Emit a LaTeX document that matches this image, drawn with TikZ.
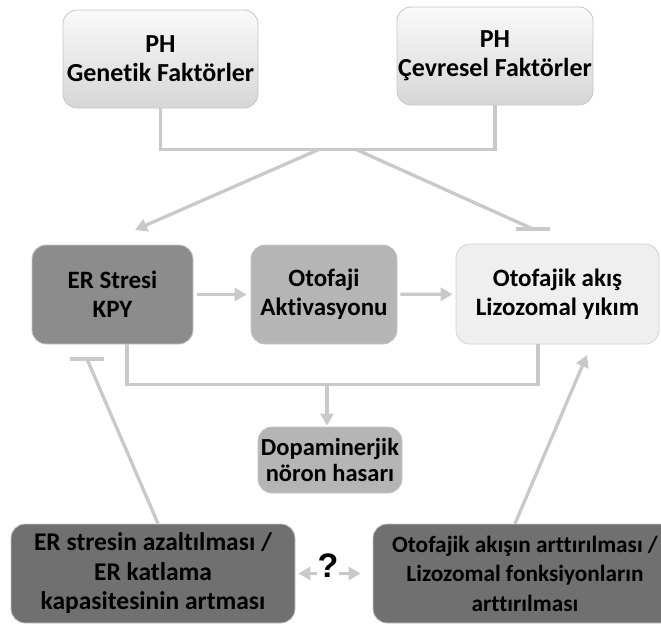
\documentclass[tikz,border=0pt]{standalone}
\usepackage{fontspec}
\setmainfont{Carlito}[Ligatures=NoCommon]
\newfontfamily\qfont{Liberation Sans}
\usetikzlibrary{arrows.meta}

\definecolor{linegray}{HTML}{C9C9C9}
\definecolor{darkbox}{HTML}{8C8C8C}
\definecolor{midbox}{HTML}{B5B5B5}
\definecolor{lightbox}{HTML}{EFEFEF}
\definecolor{deepbox}{HTML}{707070}

\begin{document}
\begin{tikzpicture}[x=1pt,y=1pt,
  box/.style={draw=gray!45, line width=0.8pt, rounded corners=14pt, inner sep=0pt, align=center,
    font=\fontsize{25}{29}\selectfont\bfseries},
  conn/.style={draw=linegray, line width=3.3pt},
  tip/.style={-{Triangle[length=12pt,width=13pt]}}]
\useasboundingbox (0,0) rectangle (661,-626);
\clip (0,0) rectangle (661,-626);

% causes
\node[box, top color=white!96!gray, bottom color=gray!32, minimum width=195, minimum height=98,
  font=\fontsize{26}{29}\selectfont\bfseries] (g) at (160.5,-59) {PH\\Genetik Faktörler};
\node[box, top color=white!96!gray, bottom color=gray!32, minimum width=196, minimum height=98,
  font=\fontsize{26}{29}\selectfont\bfseries] (c) at (495,-56) {PH\\Çevresel Faktörler};

% middle row
\node[box, fill=darkbox, minimum width=161, minimum height=99] (e) at (112.5,-294.5) {ER Stresi\\KPY};
\node[box, fill=midbox, minimum width=146, minimum height=99] (o) at (324,-294.5) {Otofaji\\Aktivasyonu};
\node[box, fill=lightbox, draw=gray!35, minimum width=203, minimum height=100] (l) at (557.5,-294) {Otofajik akış\\Lizozomal yıkım};
\node[box, fill=midbox, minimum width=144, minimum height=66, font=\fontsize{24.5}{26}\selectfont\bfseries] (d) at (330,-460) {Dopaminerjik\\nöron hasarı};

% bottom row
\node[box, fill=deepbox, minimum width=284, minimum height=99,
  font=\fontsize{25.5}{29.5}\selectfont\bfseries] (r) at (153,-573.5) {ER stresin azaltılması /\\ER katlama\\kapasitesinin artması};
\node[box, fill=deepbox, minimum width=304, minimum height=99,
  font=\fontsize{23.3}{29.5}\selectfont\bfseries] (f) at (525,-573.5) {Otofajik akışın arttırılması /\\Lizozomal fonksiyonların\\arttırılması};

% top connectors
\draw[conn] (g.south) -- ++(0,-41) -| (c.south);
\coordinate (ga) at (320,-149);
\coordinate (ea) at (135,-230);
\draw[conn,tip] (ga) -- (ea);
\coordinate (gb) at (355,-149);
\coordinate (lb) at (533,-229);
\draw[conn] (gb) -- (lb);
\draw[conn] ([xshift=-17pt]lb) -- ([xshift=17pt]lb);

% middle connectors
\draw[conn,tip,shorten <=4pt,shorten >=4pt] (e) -- (o);
\draw[conn,tip,shorten <=3pt,shorten >=3pt] (o) -- (l);
\draw[conn] ([xshift=14.5pt]e.south) -- ++(0,-40) -| ([xshift=-19.5pt]l.south);
\coordinate (j) at (327,-384);
\draw[conn,tip,shorten >=1pt] (j) -- (j |- d.north);

% feedback
\coordinate (eb) at (87,-359);
\draw[conn] ([xshift=5pt]r.north) -- (eb);
\draw[conn] ([xshift=-17pt]eb) -- ([xshift=17pt]eb);
\coordinate (la) at (587,-355);
\draw[conn,tip] ([xshift=-10pt]f.north) -- (la);

\draw[conn,{Triangle[length=12pt,width=13pt]}-{Triangle[length=12pt,width=13pt]},shorten <=3pt,shorten >=12pt] (r.east) -- (f.west);
\node[fill=white, inner sep=1pt, font=\qfont\bfseries\fontsize{34}{34}\selectfont] (q) at (328,-566) {?};
\end{tikzpicture}
\end{document}
